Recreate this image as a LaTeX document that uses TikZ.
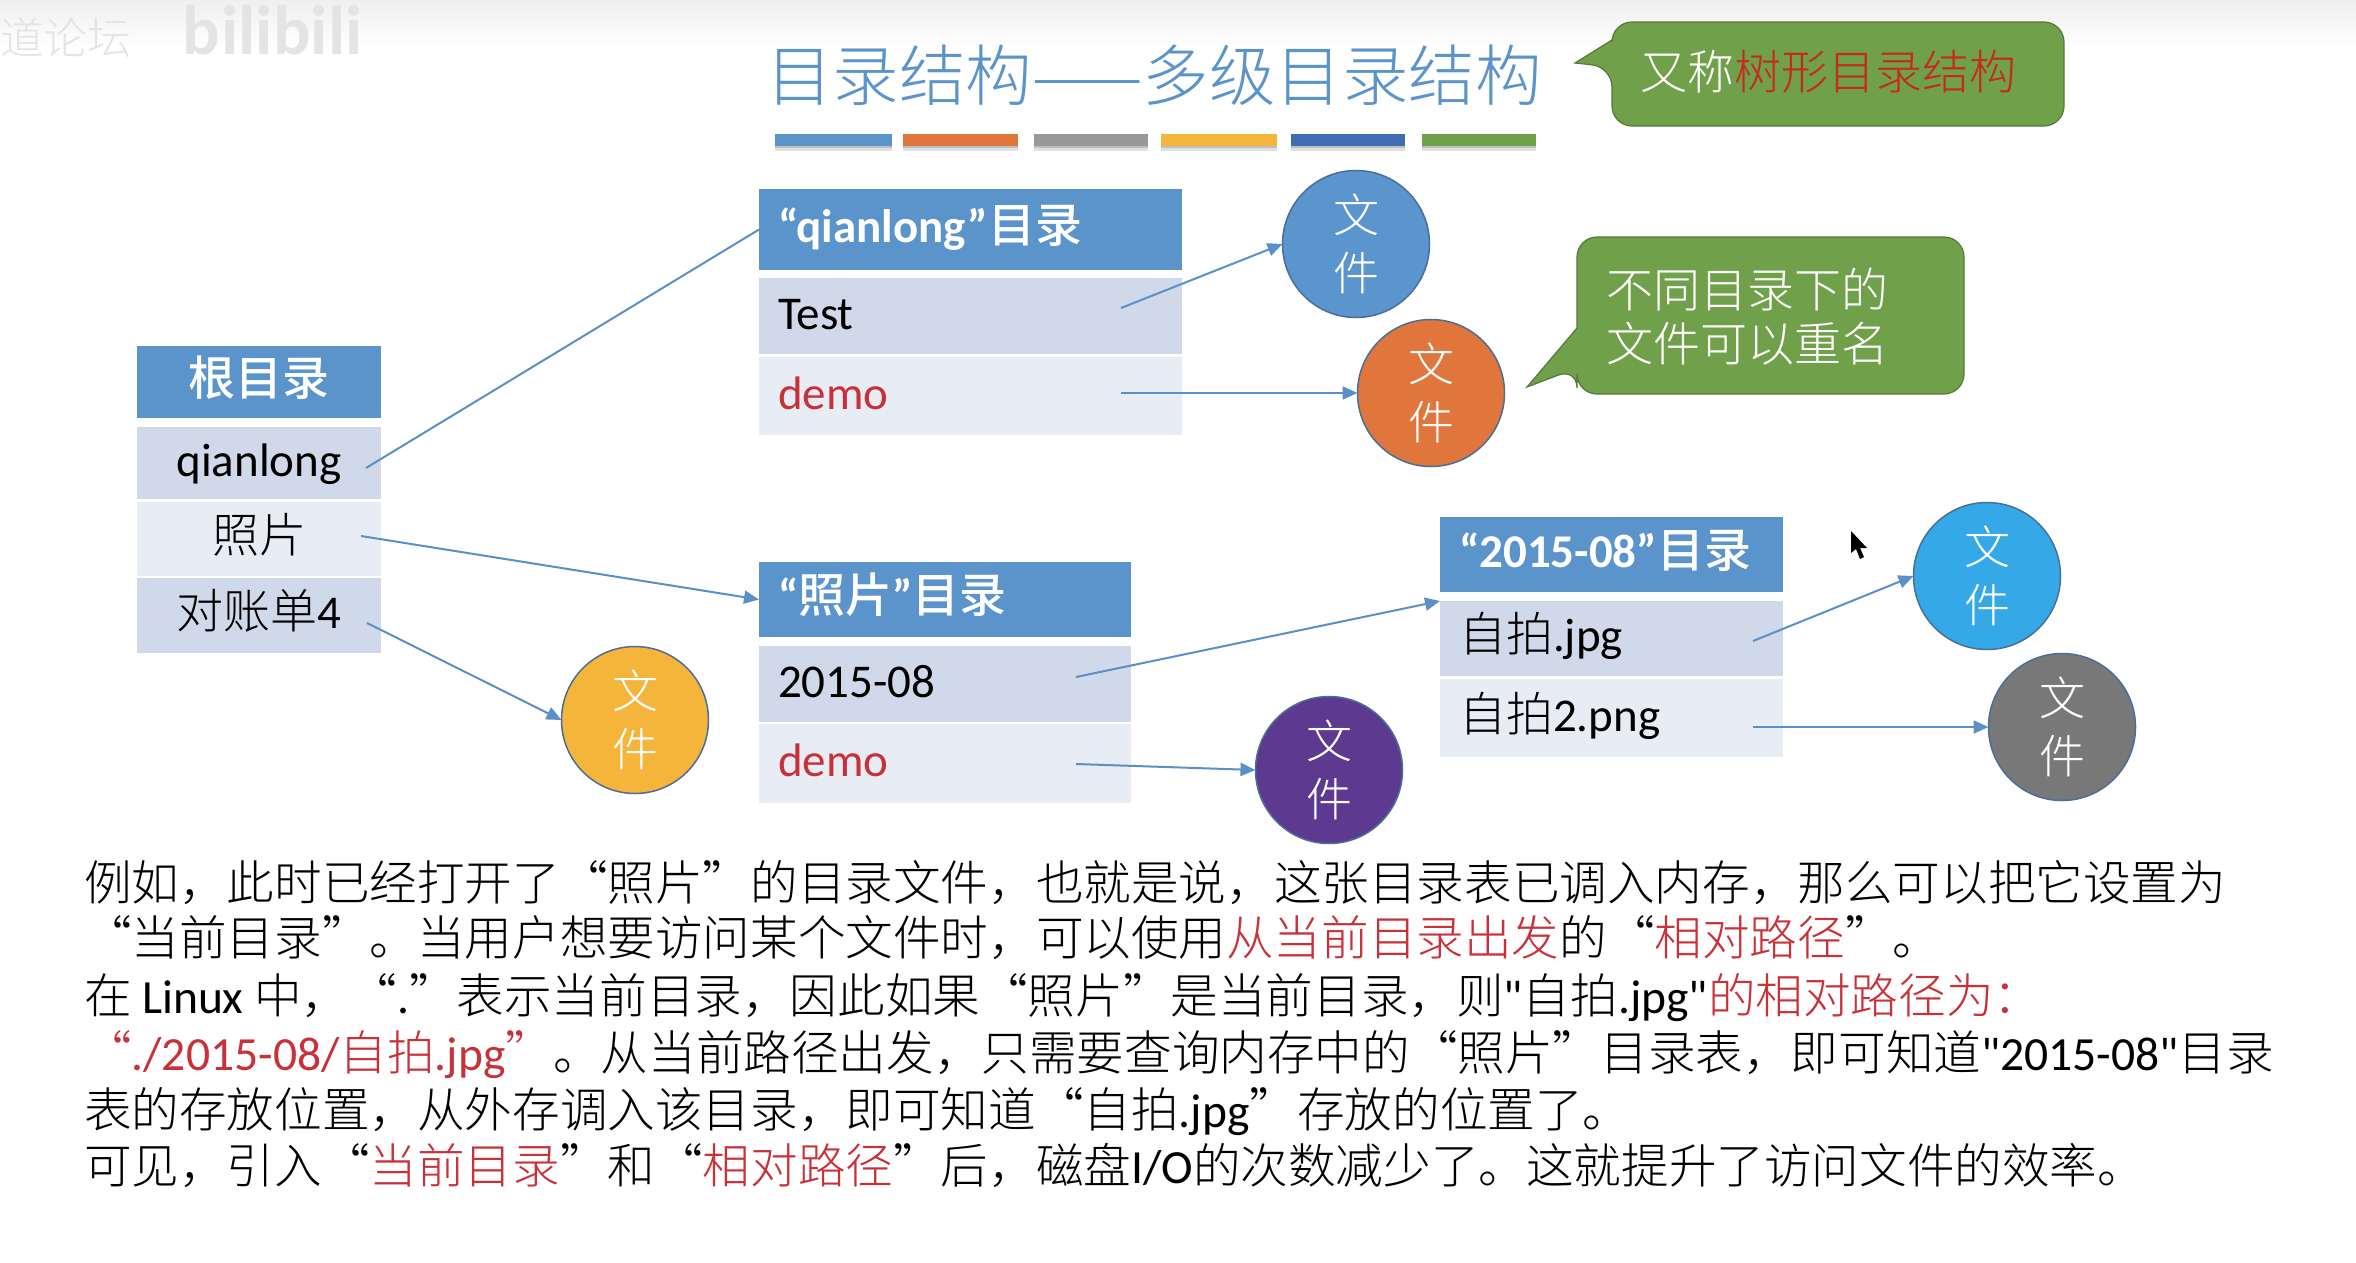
\documentclass[tikz,border=0pt]{standalone}
\usepackage{fontspec}
\setmainfont{Noto Sans CJK SC}[UprightFont=* Light,BoldFont=* Medium]
\newfontfamily\latf{Carlito}
\usetikzlibrary{arrows.meta,shapes.geometric}
\definecolor{hdblue}{HTML}{5B94CB}
\definecolor{rowa}{HTML}{CFD9EA}
\definecolor{rowb}{HTML}{E7ECF5}
\definecolor{callg}{HTML}{70A04A}
\definecolor{callb}{HTML}{55793A}
\definecolor{arrowc}{HTML}{5B90C6}
\definecolor{txtred}{HTML}{C93038}
\definecolor{callred}{HTML}{C62A1E}
\definecolor{cblue}{HTML}{5B95CE}
\definecolor{corange}{HTML}{E0763C}
\definecolor{cyellow}{HTML}{F5B53B}
\definecolor{cpurple}{HTML}{5D3A90}
\definecolor{ccyan}{HTML}{35A8E8}
\definecolor{cgrey}{HTML}{787878}
\definecolor{cdark}{HTML}{4A6F96}
\definecolor{bardb}{HTML}{3F6DB3}
\definecolor{bargr}{HTML}{999999}
\definecolor{wmark}{HTML}{EFEFEF}
\newcommand{\La}[1]{{\latf #1}}
\tikzset{
  x=1pt,y=-1pt,
  every node/.style={inner sep=0pt,outer sep=0pt},
  cellbase/.style={anchor=north west,inner xsep=19pt,align=left,font=\fontsize{47}{54}\selectfont,text height=34pt,text depth=8pt},
  hd/.style={cellbase,fill=hdblue,text=white,font=\fontsize{47}{54}\selectfont\bfseries},
  rowdark/.style={cellbase,fill=rowa,text=black},
  rowlight/.style={cellbase,fill=rowb,text=black},
  rootcell/.style={align=center,inner xsep=0pt,text width=244pt},
  filec/.style={circle,minimum size=147pt,align=center,text=white,draw=cdark,line width=1.5pt,font=\fontsize{46}{58}\selectfont},
  conn/.style={draw=arrowc,line width=2pt,-{Triangle[length=15pt,width=13pt]}},
  callout/.style={fill=callg,draw=callb,line width=1.2pt,rounded corners=20pt},
  calltext/.style={font=\fontsize{47}{54}\selectfont,text=white,align=left},
  bodyline/.style={anchor=base west,font=\fontsize{47.6}{54}\selectfont,text=black},
  titletext/.style={font=\fontsize{66.5}{70}\selectfont,text=hdblue},
  mark/.style={}
}
\begin{document}
\begin{tikzpicture}
\useasboundingbox (0,0) rectangle (2356,1262);
\fill[white] (0,0) rectangle (2356,1262);
\shade[top color=wmark,bottom color=white] (0,0) rectangle (2356,48);
% watermark
\node[anchor=west,text=wmark!90!gray,font=\fontsize{44}{44}\selectfont] (wm1) at (0,38) {道论坛};
\node[anchor=west,text=wmark!90!gray,font=\fontsize{70}{70}\selectfont\bfseries] (wm2) at (182,30) {\La{b}\hspace{2pt}\La{ili}\La{b}\La{ili}};
% title
\node[titletext] (title) at (1154,75) {目录结构——多级目录结构};
% bars
\foreach \a/\b/\c in {775/892/hdblue,903/1018/corange,1034/1148/bargr,1161/1277/cyellow,1291/1405/bardb,1422/1536/callg}{
  \fill[black!12] (\a,146) rectangle (\b,151);
  \fill[black!25] (\a,146) rectangle (\b,148);
  \fill[\c] (\a,134) rectangle (\b,146);
}
% callouts
\draw[callout] (1612,22) -- (2064,22) -- (2064,126) -- (1612,126) -- (1612,67)
  [sharp corners] -- (1575,63) -- (1612,40) [rounded corners=20pt] -- cycle;
\node[calltext] (c1) at (1828,72) {又称\textcolor{callred}{树形目录结构}};
\draw[callout] (1577,237) -- (1964,237) -- (1964,394) -- (1577,394) -- (1577,368)
  [sharp corners] -- (1527,387) -- (1577,328) [rounded corners=20pt] -- cycle;
\node[calltext,anchor=west] (c2) at (1606,317) {不同目录下的\\文件可以重名};
% root table
\node[hd,rootcell,minimum height=72pt,fill=hdblue] (r0) at (137,346) {根目录};
\node[rowdark,rootcell,minimum height=72pt] (r1) at (137,427) {\La{qianlong}};
\node[rowlight,rootcell,minimum height=74pt] (r2) at (137,502) {照片};
\node[rowdark,rootcell,minimum height=75pt] (r3) at (137,578) {对账单\La{4}};
% qianlong table
\node[hd,text width=385pt,minimum height=81pt] (q0) at (759,189) {\La{“qianlong”}目录};
\node[rowdark,text width=385pt,minimum height=76pt] (q1) at (759,278) {\La{Test}};
\node[rowlight,text width=385pt,minimum height=78pt] (q2) at (759,357) {\textcolor{txtred}{\La{demo}}};
% zhaopian table
\node[hd,text width=334pt,minimum height=75pt] (z0) at (759,562) {\La{“}照片\La{”}目录};
\node[rowdark,text width=334pt,minimum height=76pt] (z1) at (759,646) {\La{2015-08}};
\node[rowlight,text width=334pt,minimum height=79pt] (z2) at (759,724) {\textcolor{txtred}{\La{demo}}};
% 2015-08 table
\node[hd,text width=305pt,minimum height=75pt] (p0) at (1440,517) {\La{“2015-08”}目录};
\node[rowdark,text width=305pt,minimum height=75pt] (p1) at (1440,601) {自拍\La{.jpg}};
\node[rowlight,text width=305pt,minimum height=78pt] (p2) at (1440,679) {自拍\La{2.png}};
% files
\node[filec,fill=cblue] (f1) at (1356,244) {文\\件};
\node[filec,fill=corange] (f2) at (1431,393) {文\\件};
\node[filec,fill=cyellow] (f3) at (635,720) {文\\件};
\node[filec,fill=cpurple] (f4) at (1329,770) {文\\件};
\node[filec,fill=ccyan] (f5) at (1987,576) {文\\件};
\node[filec,fill=cgrey] (f6) at (2062,727) {文\\件};
% connector start points
\coordinate (s1) at (366,468);
\coordinate (s2) at (361,536);
\coordinate (s3) at (367,623);
\coordinate (s4) at (1121,308);
\coordinate (s5) at (1121,393);
\coordinate (s6) at (1076,677);
\coordinate (s7) at (1076,764);
\coordinate (s8) at (1753,641);
\coordinate (s9) at (1753,727);
\draw[draw=arrowc,line width=2pt] (s1) -- (q0.west);
\draw[conn] (s2) -- (z0.west);
\draw[conn] (s3) -- (f3.west);
\draw[conn] (s4) -- (f1.west);
\draw[conn] (s5) -- (f2.west);
\draw[conn] (s6) -- (p1.north west);
\draw[conn] (s7) -- (f4.west);
\draw[conn] (s8) -- (f5.west);
\draw[conn] (s9) -- (f6.west);
% cursor
\fill[black] (1851,531) -- (1851,553) -- (1856,549) -- (1860,559) -- (1864,557) -- (1860,548) -- (1867,548) -- cycle;
% body text
\node[bodyline] (b1) at (84,900) {例如，此时已经打开了“照片”的目录文件，也就是说，这张目录表已调入内存，那么可以把它设置为};
\node[bodyline] (b2) at (84,955) {“当前目录”。当用户想要访问某个文件时，可以使用\textcolor{txtred}{从当前目录出发}的“\textcolor{txtred}{相对路径}”。};
\node[bodyline] (b3) at (84,1013) {在 \La{Linux} 中，“\La{.}”表示当前目录，因此如果“照片”是当前目录，则\La{"}自拍\La{.jpg"}\textcolor{txtred}{的相对路径为：}};
\node[bodyline] (b4) at (84,1070) {\textcolor{txtred}{“\La{./2015-08/}自拍\La{.jpg}”}。从当前路径出发，只需要查询内存中的“照片”目录表，即可知道\La{"2015-08"}目录};
\node[bodyline] (b5) at (84,1127) {表的存放位置，从外存调入该目录，即可知道“自拍\La{.jpg}”存放的位置了。};
\node[bodyline] (b6) at (84,1183) {可见，引入“\textcolor{txtred}{当前目录}”和“\textcolor{txtred}{相对路径}”后，磁盘\La{I/O}的次数减少了。这就提升了访问文件的效率。};
\end{tikzpicture}
\end{document}
